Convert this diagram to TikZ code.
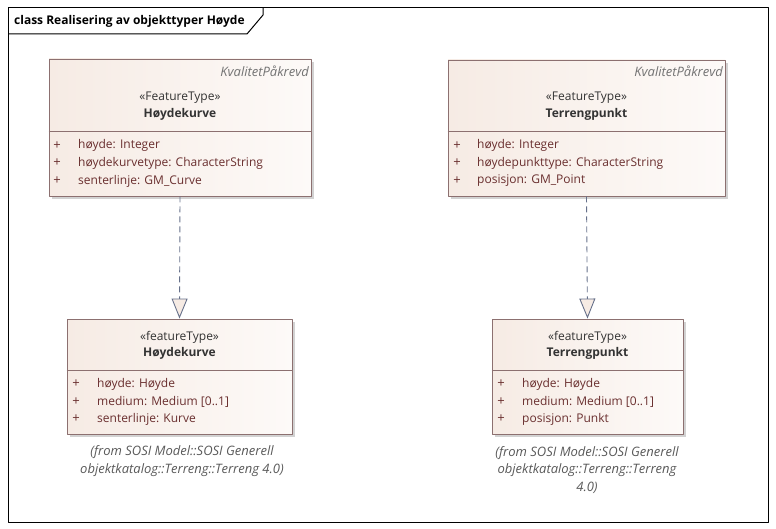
\documentclass[tikz,border=0pt]{standalone}
\usepackage{fontspec}
\setmainfont{Open Sans}
\usetikzlibrary{arrows.meta,shadows,positioning}
\definecolor{kant}{HTML}{8C7070}
\definecolor{fyll}{HTML}{F6EBE4}
\definecolor{lys}{HTML}{FDFAF8}
\definecolor{attr}{HTML}{6A2F2F}
\definecolor{pil}{HTML}{66708A}
\definecolor{tekst}{HTML}{333333}
\begin{document}
\begin{tikzpicture}[x=1pt, y=-1pt, font=\fontsize{12}{14}\selectfont, line join=round,
	klasse/.style={draw=kant, line width=.9pt, left color=fyll, right color=lys, inner sep=0pt,
		drop shadow={shadow xshift=3pt, shadow yshift=-3pt, fill=black!35, opacity=.5}},
	skille/.style={draw=kant, line width=.9pt},
	stereo/.style={text=tekst, inner sep=0pt},
	navn/.style={text=tekst, inner sep=0pt, font=\fontsize{12}{14}\selectfont\bfseries},
	merke/.style={text=black!55, inner sep=0pt, anchor=east, font=\fontsize{13}{14}\selectfont\itshape},
	pluss/.style={text=attr, inner sep=0pt, font=\fontsize{13}{14}\selectfont},
	attrib/.style={text=attr, inner sep=0pt, anchor=west},
	notat/.style={text=black!65, inner sep=0pt, align=center, font=\fontsize{13}{17.5}\selectfont\itshape},
	realiser/.style={draw=pil, line width=.9pt, dash pattern=on 6pt off 4pt,
		-{Triangle[length=20pt, width=16pt, fill=fyll, line width=.9pt]}}]
	\useasboundingbox (0,0) rectangle (776,529);
	% ramme
	\draw[line width=1pt] (8,8) rectangle (768,522);
	\draw[line width=1pt] (8,34) -- (247,34) -- (263,15) -- (263,8);
	\node[anchor=west, inner sep=0pt, font=\fontsize{12}{14}\selectfont\bfseries] (tittel) at (14,21) {class Realisering av objekttyper Høyde};
	% klasser
	\node[klasse, minimum width=262pt, minimum height=137pt] (hkurve) at (180,127.5) {};
	\node[klasse, minimum width=277pt, minimum height=136pt] (tpunkt) at (586.5,128) {};
	\node[klasse, minimum width=225pt, minimum height=115pt] (hkurveS) at (179.5,376.5) {};
	\node[klasse, minimum width=191pt, minimum height=115pt] (tpunktS) at (587.5,376.5) {};
	\draw[skille] (hkurve.west |- 0,131) -- (hkurve.east |- 0,131);
	\draw[skille] (tpunkt.west |- 0,131) -- (tpunkt.east |- 0,131);
	\draw[skille] (hkurveS.west |- 0,370) -- (hkurveS.east |- 0,370);
	\draw[skille] (tpunktS.west |- 0,370) -- (tpunktS.east |- 0,370);
	% overskrifter
	\node[merke] (hkurveK) at (309,71) {KvalitetPåkrevd};
	\node[merke] (tpunktK) at (723,71) {KvalitetPåkrevd};
	\node[stereo] (hkurveSt) at (180,98) {«FeatureType»};
	\node[navn, below=4pt of hkurveSt] (hkurveN) {Høydekurve};
	\node[stereo] (tpunktSt) at (586.5,98) {«FeatureType»};
	\node[navn, below=4pt of tpunktSt] (tpunktN) {Terrengpunkt};
	\node[stereo] (hkurveSSt) at (179.5,337) {«featureType»};
	\node[navn, below=4pt of hkurveSSt] (hkurveSN) {Høydekurve};
	\node[stereo] (tpunktSSt) at (587.5,337) {«featureType»};
	\node[navn, below=4pt of tpunktSSt] (tpunktSN) {Terrengpunkt};
	% attributter
	\foreach \i/\t in {1/{høyde: Integer}, 2/{høydekurvetype: CharacterString}, 3/{senterlinje: GM\_Curve}} {
		\node[pluss] (hkurveP\i) at (57,127.5+17.8*\i) {+};
		\node[attrib] (hkurveA\i) at (78,127.5+17.8*\i) {\t};
	}
	\foreach \i/\t in {1/{høyde: Integer}, 2/{høydepunkttype: CharacterString}, 3/{posisjon: GM\_Point}} {
		\node[pluss] (tpunktP\i) at (457,127.5+17.8*\i) {+};
		\node[attrib] (tpunktA\i) at (477,127.5+17.8*\i) {\t};
	}
	\foreach \i/\t in {1/{høyde: Høyde}, 2/{medium: Medium [0..1]}, 3/{senterlinje: Kurve}} {
		\node[pluss] (hkurveSP\i) at (76,366.5+17.5*\i) {+};
		\node[attrib] (hkurveSA\i) at (97,366.5+17.5*\i) {\t};
	}
	\foreach \i/\t in {1/{høyde: Høyde}, 2/{medium: Medium [0..1]}, 3/{posisjon: Punkt}} {
		\node[pluss] (tpunktSP\i) at (501,366.5+17.5*\i) {+};
		\node[attrib] (tpunktSA\i) at (522,366.5+17.5*\i) {\t};
	}
	% realiseringer
	\draw[realiser] (hkurve.south) -- (hkurveS.north);
	\draw[realiser] (tpunkt.south) -- (tpunktS.north);
	% fra-notater
	\node[notat] (hkurveFra) at (182,461) {(from SOSI Model::SOSI Generell\\objektkatalog::Terreng::Terreng 4.0)};
	\node[notat] (tpunktFra) at (587,470) {(from SOSI Model::SOSI Generell\\objektkatalog::Terreng::Terreng\\4.0)};
\end{tikzpicture}
\end{document}
